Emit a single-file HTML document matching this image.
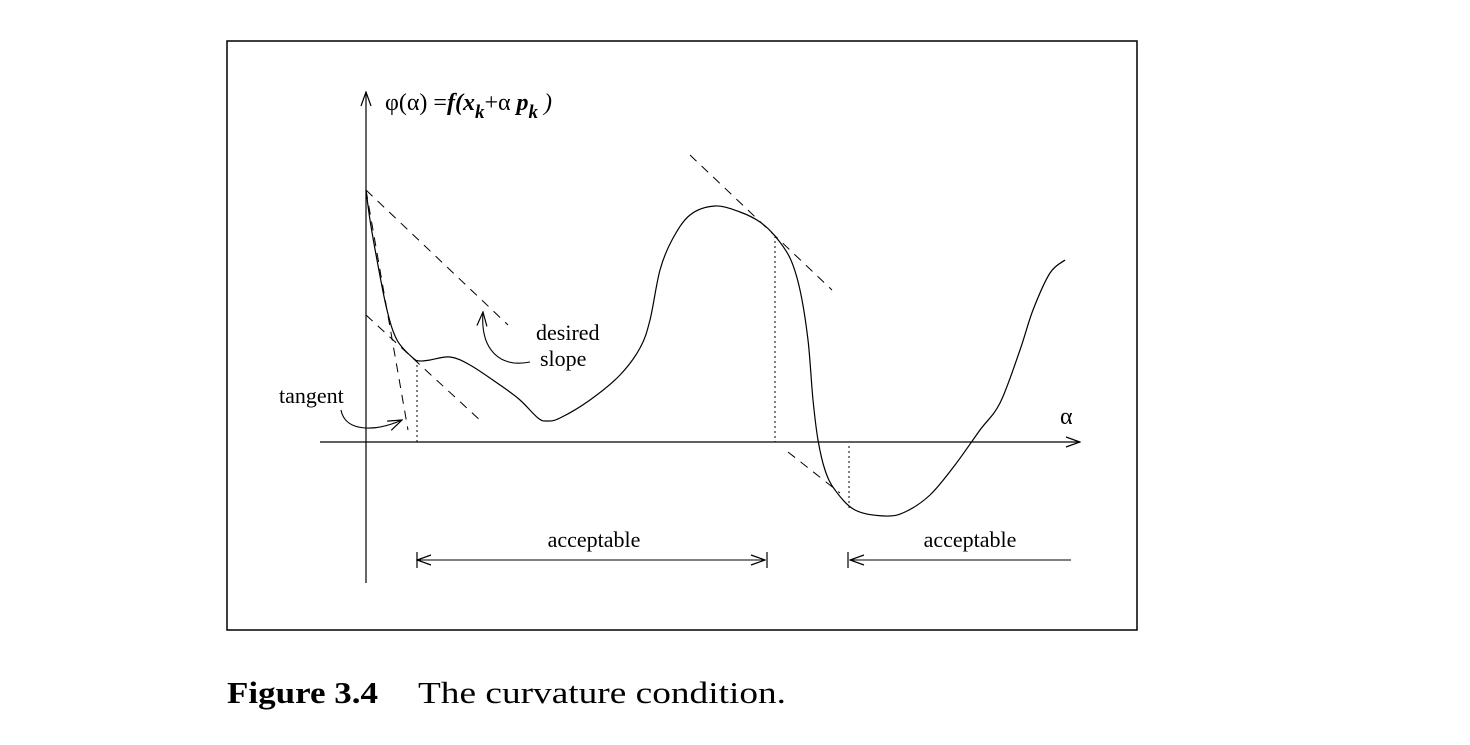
<!DOCTYPE html>
<html><head><meta charset="utf-8"><style>
html,body{margin:0;padding:0;background:#fff;}
svg{display:block;}
text{font-family:"Liberation Serif",serif;fill:#000;}
</style></head><body>
<svg id="fig" width="1470" height="745" viewBox="0 0 1470 745">
<defs>
<marker id="oa" markerWidth="16" markerHeight="12" refX="15" refY="6" orient="auto" markerUnits="userSpaceOnUse"><path d="M1,1 L15,6 L1,11" fill="none" stroke="#000" stroke-width="1.2"/></marker>
</defs>
<rect x="227" y="41" width="910" height="589" fill="none" stroke="#000" stroke-width="1.5"/>
<line x1="366" y1="583" x2="366" y2="92" stroke="#000" stroke-width="1.2" marker-end="url(#oa)"/>
<line x1="320" y1="442" x2="1080" y2="442" stroke="#000" stroke-width="1.2" marker-end="url(#oa)"/>
<text x="385" y="110" font-size="24">φ(α) =<tspan font-style="italic" font-weight="bold">f(x</tspan><tspan font-style="italic" font-weight="bold" font-size="19" dy="8">k</tspan><tspan dy="-8">+α </tspan><tspan font-style="italic" font-weight="bold">p</tspan><tspan font-style="italic" font-weight="bold" font-size="19" dy="8">k</tspan><tspan dy="-8" font-style="italic"> )</tspan></text>
<text x="1060" y="424" font-size="24">α</text>
<g id="marks"></g>
<text x="536" y="340" font-size="22">desired</text>
<text x="540" y="366" font-size="22">slope</text>
<text x="279" y="403" font-size="22">tangent</text>
<path d="M530,362 C500,368 480,350 483,312" fill="none" stroke="#000" stroke-width="1.1" marker-end="url(#oa)"/>
<path d="M341,410 C345,432 375,432 402,420" fill="none" stroke="#000" stroke-width="1.1" marker-end="url(#oa)"/>
<text x="594" y="547" font-size="22" text-anchor="middle">acceptable</text>
<text x="970" y="547" font-size="22" text-anchor="middle">acceptable</text>
<line x1="417" y1="552" x2="417" y2="568" stroke="#000" stroke-width="1.2"/>
<line x1="767" y1="552" x2="767" y2="568" stroke="#000" stroke-width="1.2"/>
<line x1="592" y1="560" x2="417" y2="560" stroke="#000" stroke-width="1.1" marker-end="url(#oa)"/>
<line x1="592" y1="560" x2="765" y2="560" stroke="#000" stroke-width="1.1" marker-end="url(#oa)"/>
<line x1="848" y1="552" x2="848" y2="568" stroke="#000" stroke-width="1.2"/>
<line x1="1071" y1="560" x2="850" y2="560" stroke="#000" stroke-width="1.1" marker-end="url(#oa)"/>
<text x="227" y="703" font-size="31" font-weight="bold" textLength="151" lengthAdjust="spacingAndGlyphs">Figure 3.4</text>
<text x="418" y="703" font-size="31" textLength="368" lengthAdjust="spacingAndGlyphs">The curvature condition.</text>
</svg>
<script>
// phi(alpha) sample points: alpha units and phi units (origin at axes crossing)
const alphaVals = [0,4,11,21,31,47,54,64,84,104,134,154,172,181,194,224,254,274,284,294,306,324,349,374,394,409,424,434,442,447,452,459,469,489,519,539,564,589,614,634,654,667,684,699];
const phiVals = [252,222,182,132,102,84,81,82,85,77,57,42,24,21,24,42,67,94,122,172,202,227,236,230,220,206,184,152,102,42,2,-28,-48,-68,-74,-70,-53,-23,12,39,92,132,169,182];
// dashed reference lines [alpha0, phi0, alpha1, phi1]
const dashStart = [[0,252],[0,127],[0,252],[324,287],[422,-10]];
const dashEnd   = [[142,117],[116,20],[42,12],[466,152],[474,-51]];
// dotted verticals: alpha position, phi top, phi bottom
const dotAlpha = [51,409,483];
const dotTop = [82,206,-4];
const dotBottom = [0,0,-66];

const X0 = 366, Y0 = 442;
function xs(a){ return X0 + a; }
function ys(p){ return Y0 - p; }
const NS = "http://www.w3.org/2000/svg";
const g = document.getElementById('marks');

let pts = alphaVals.map((a,i)=>[xs(a), ys(phiVals[i])]);
let d = "M"+pts[0][0]+","+pts[0][1];
for(let i=0;i<pts.length-1;i++){
  const p0=pts[Math.max(0,i-1)], p1=pts[i], p2=pts[i+1], p3=pts[Math.min(pts.length-1,i+2)];
  const c1=[p1[0]+(p2[0]-p0[0])/6, p1[1]+(p2[1]-p0[1])/6];
  const c2=[p2[0]-(p3[0]-p1[0])/6, p2[1]-(p3[1]-p1[1])/6];
  d += " C"+c1[0].toFixed(1)+","+c1[1].toFixed(1)+" "+c2[0].toFixed(1)+","+c2[1].toFixed(1)+" "+p2[0]+","+p2[1];
}
const curve = document.createElementNS(NS,'path');
curve.setAttribute('d', d);
curve.setAttribute('fill','none');
curve.setAttribute('stroke','#000');
curve.setAttribute('stroke-width','1.2');


g.appendChild(curve);

dashStart.forEach((s,i)=>{
  const e = dashEnd[i];
  const l = document.createElementNS(NS,'line');
  l.setAttribute('x1', xs(s[0])); l.setAttribute('y1', ys(s[1]));
  l.setAttribute('x2', xs(e[0])); l.setAttribute('y2', ys(e[1]));
  l.setAttribute('stroke','#000'); l.setAttribute('stroke-width','1');
  l.setAttribute('stroke-dasharray','9,7');
  
  
  g.appendChild(l);
});

dotAlpha.forEach((a,i)=>{
  const l = document.createElementNS(NS,'line');
  l.setAttribute('x1', xs(a)); l.setAttribute('y1', ys(dotTop[i]));
  l.setAttribute('x2', xs(a)); l.setAttribute('y2', ys(dotBottom[i]));
  l.setAttribute('stroke','#000'); l.setAttribute('stroke-width','1');
  l.setAttribute('stroke-dasharray','2,3');
  
  
  g.appendChild(l);
});
</script>
</body></html>
